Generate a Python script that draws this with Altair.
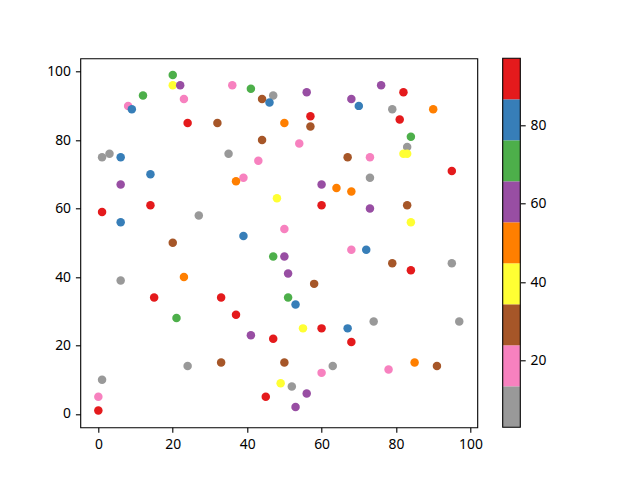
import altair as alt
import pandas as pd

# ---- data ----
xs = [20, 20, 22, 12, 36, 41, 47, 44, 46, 23, 8, 9, 24, 32, 44, 1, 3, 6, 35, 43,
      14, 39, 37, 6, 50, 56, 76, 82, 68, 70, 79, 90, 81, 57, 57, 84, 83, 82, 83, 54,
      67, 73, 95, 73, 48, 1, 14, 6, 27, 20, 39, 47, 50, 6, 23, 15, 33, 60, 64, 68,
      60, 73, 83, 84, 68, 72, 50, 79, 84, 95, 51, 58, 51, 53, 21, 37, 41, 47, 24, 33,
      1, 0, 0, 45, 55, 60, 67, 74, 97, 68, 50, 60, 63, 78, 85, 91, 49, 52, 56, 53]
ys = [99, 96, 96, 93, 96, 95, 93, 92, 91, 92, 90, 89, 85, 85, 80, 75, 76, 75, 76, 74,
      70, 69, 68, 67, 85, 94, 96, 94, 92, 90, 89, 89, 86, 87, 84, 81, 78, 76, 76, 79,
      75, 75, 71, 69, 63, 59, 61, 56, 58, 50, 52, 46, 54, 39, 40, 34, 34, 67, 66, 65,
      61, 60, 61, 56, 48, 48, 46, 44, 42, 44, 41, 38, 34, 32, 28, 29, 23, 22, 14, 15,
      10, 5, 1, 5, 25, 25, 25, 27, 27, 21, 15, 12, 14, 13, 15, 14, 9, 8, 6, 2]
cs = [71, 40, 60, 71, 19, 71, 3, 29, 81, 19, 19, 81, 97, 29, 29, 8, 8, 81, 8, 19,
      81, 19, 50, 60, 50, 60, 60, 92, 60, 81, 8, 50, 92, 92, 29, 71, 8, 40, 40, 19,
      29, 19, 92, 8, 40, 92, 92, 81, 8, 29, 81, 71, 19, 8, 50, 92, 92, 60, 50, 50,
      92, 60, 29, 40, 19, 81, 60, 29, 92, 8, 60, 29, 71, 81, 71, 92, 60, 92, 8, 29,
      8, 19, 92, 92, 40, 92, 81, 8, 8, 92, 29, 19, 8, 19, 50, 29, 40, 8, 60, 60]

axis_ticks = [0, 20, 40, 60, 80, 100]
cbar_ticks = [20, 40, 60, 80]
set1_r = ["#999999", "#f781bf", "#a65628", "#ffff33", "#ff7f00",
          "#984ea3", "#4daf4a", "#377eb8", "#e41a1c"]

df = pd.DataFrame({"x": xs, "y": ys, "c": cs})
cmin, cmax = min(cs), max(cs)
n = len(set1_r)
step = (cmax - cmin) / n
lo = [cmin + i * step for i in range(n)]
hi = [cmin + (i + 1) * step for i in range(n)]
bands = pd.DataFrame({"lo": lo, "hi": hi, "c": [(a + b) / 2 for a, b in zip(lo, hi)]})
outline = pd.DataFrame({"lo": [cmin], "hi": [cmax]})

xr = max(xs) - min(xs)
yr = max(ys) - min(ys)
xdom = [min(xs) - 0.05 * xr, max(xs) + 0.05 * xr]
ydom = [min(ys) - 0.05 * yr, max(ys) + 0.05 * yr]

FONT = "Noto Sans"
ax_style = dict(labelFont=FONT, labelFontSize=13.9, labelColor="black",
                tickColor="black", tickWidth=1.1, tickSize=4.9, labelPadding=4.9,
                grid=False, domain=False, title=None)

cscale = alt.Scale(type="quantize", domain=[cmin, cmax], range=set1_r)

points = alt.Chart(df).mark_circle(size=72, opacity=1).encode(
    x=alt.X("x:Q", scale=alt.Scale(domain=xdom, nice=False, zero=False),
            axis=alt.Axis(values=axis_ticks, **ax_style)),
    y=alt.Y("y:Q", scale=alt.Scale(domain=ydom, nice=False, zero=False),
            axis=alt.Axis(values=axis_ticks, **ax_style)),
    color=alt.Color("c:Q", scale=cscale, legend=None),
)

cb_left = 422.4
cb_right = 440

bars = alt.Chart(bands).mark_rect().encode(
    x=alt.value(cb_left), x2=alt.value(cb_right),
    y=alt.Y("lo:Q", scale=alt.Scale(domain=[cmin, cmax], nice=False, zero=False),
            axis=alt.Axis(orient="right", offset=43, values=cbar_ticks, **ax_style)),
    y2="hi:Q",
    color=alt.Color("c:Q", scale=cscale, legend=None),
)

frame = alt.Chart(outline).mark_rect(fillOpacity=0, stroke="black", strokeWidth=1.1).encode(
    x=alt.value(cb_left), x2=alt.value(cb_right),
    y=alt.Y("lo:Q", scale=alt.Scale(domain=[cmin, cmax], nice=False, zero=False), axis=None),
    y2="hi:Q",
)

chart = alt.layer(points, bars, frame).resolve_scale(y="independent").properties(
    width=397, height=369,
    autosize=alt.AutoSizeParams(type="none"),
    padding={"left": 72.3, "top": 50.3, "right": 140, "bottom": 40},
).configure_view(stroke="black", strokeWidth=1.1)

chart.save("out.html", embed_options={"renderer": "svg", "actions": False})
